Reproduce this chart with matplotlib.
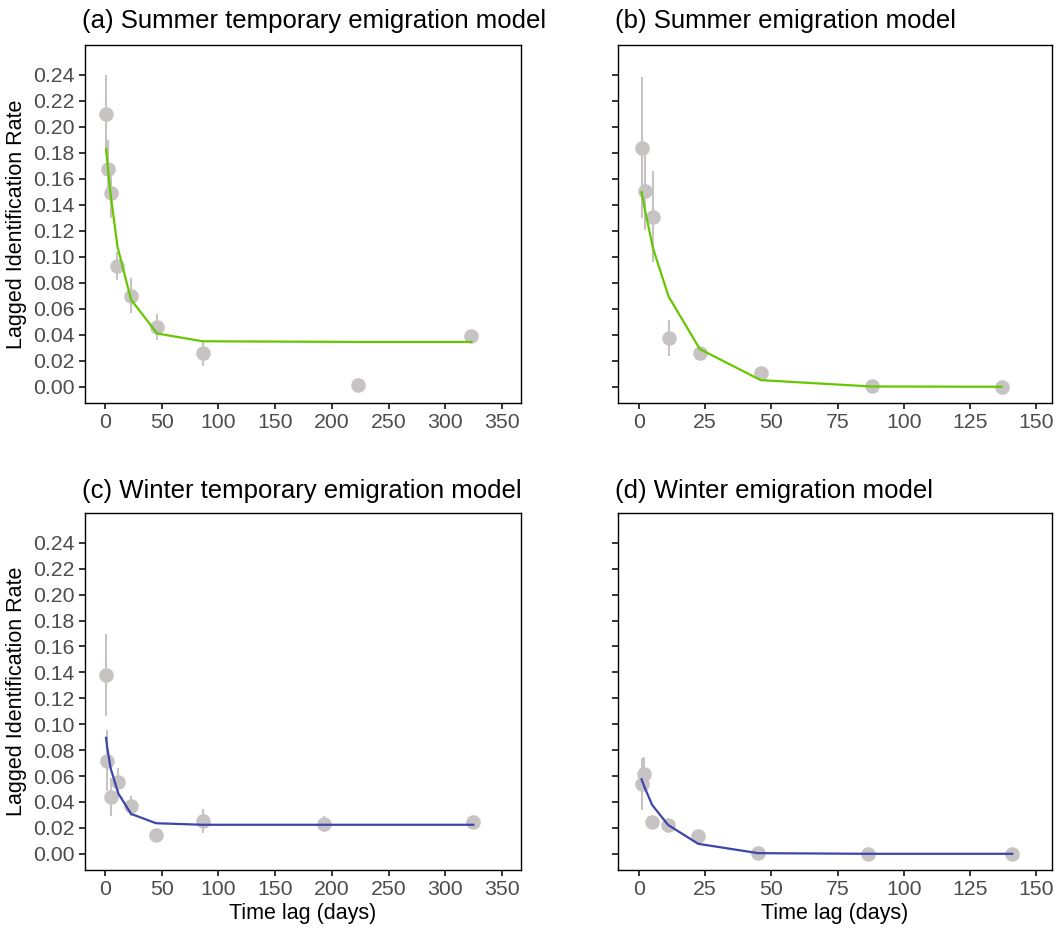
import matplotlib
matplotlib.use("Agg")
import matplotlib.pyplot as plt
import numpy as np

plt.rcParams['font.family'] = ['Liberation Sans', 'DejaVu Sans']

# ---- data ----
titles = ["(a) Summer temporary emigration model", "(b) Summer emigration model",
          "(c) Winter temporary emigration model", "(d) Winter emigration model"]

lag_a = [1, 2.4, 5, 11, 23, 46, 86, 223, 323]
obs_a = [0.210, 0.1675, 0.149, 0.093, 0.070, 0.046, 0.026, 0.0015, 0.039]
err_a = [0.030, 0.0225, 0.019, 0.011, 0.0135, 0.010, 0.010, 0.0, 0.004]
fit_a = [0.183, 0.170, 0.148, 0.108, 0.067, 0.041, 0.035, 0.0345, 0.0345]

lag_b = [1, 2.3, 5.3, 11.2, 23, 46, 88, 137]
obs_b = [0.184, 0.151, 0.131, 0.0377, 0.0257, 0.0108, 0.0005, 0.0]
err_b = [0.054, 0.030, 0.035, 0.0137, 0.005, 0.001, 0.0, 0.0]
fit_b = [0.1497, 0.136, 0.1067, 0.0695, 0.029, 0.0051, 0.0002, 0.0]

lag_c = [1, 2, 5, 11.7, 23, 45, 86, 193.4, 324.8]
obs_c = [0.138, 0.0718, 0.0441, 0.0552, 0.0369, 0.0144, 0.0254, 0.0228, 0.0244]
err_c = [0.032, 0.0236, 0.0146, 0.011, 0.008, 0.0, 0.009, 0.006, 0.002]
fit_c = [0.0895, 0.082, 0.066, 0.0467, 0.0308, 0.0236, 0.0224, 0.0224, 0.0224]

lag_d = [1, 2, 5, 11, 22.4, 45, 86.5, 141]
obs_d = [0.0538, 0.0615, 0.0249, 0.0223, 0.0141, 0.0003, 0.0, 0.0]
err_d = [0.020, 0.013, 0.003, 0.003, 0.0, 0.0, 0.0, 0.0]
fit_d = [0.0575, 0.052, 0.0377, 0.0223, 0.0077, 0.0005, 0.0, 0.0]

y_ticks = [0.00, 0.02, 0.04, 0.06, 0.08, 0.10, 0.12, 0.14, 0.16, 0.18, 0.20, 0.22, 0.24]
x_ticks_long = [0, 50, 100, 150, 200, 250, 300, 350]
x_ticks_short = [0, 25, 50, 75, 100, 125, 150]

GREEN = "#66C700"
BLUE = "#3B46AA"
GRAY = "#C7C3C3"
TICKCOL = "#4D4D4D"

W, H = 1063, 927
fig = plt.figure(figsize=(W / 100, H / 100), dpi=100)

def px_axes(l, r, t, b):
    return fig.add_axes([l / W, 1 - b / H, (r - l) / W, (b - t) / H])

boxes = [(85, 521, 45, 403), (618, 1052, 45, 403),
         (85, 521, 513, 870), (618, 1052, 513, 870)]
panels = [(lag_a, obs_a, err_a, fit_a, GREEN, x_ticks_long, (-17.6, 366.8)),
          (lag_b, obs_b, err_b, fit_b, GREEN, x_ticks_short, (-7.9, 156.0)),
          (lag_c, obs_c, err_c, fit_c, BLUE, x_ticks_long, (-17.6, 366.8)),
          (lag_d, obs_d, err_d, fit_d, BLUE, x_ticks_short, (-7.9, 156.0))]
title_pos = [(82, 21), (615, 21), (82, 491), (615, 491)]

for i, (box, pan) in enumerate(zip(boxes, panels)):
    lag, obs, err, fit, col, xt, xl = pan
    ax = px_axes(*box)
    ax.errorbar(lag, obs, yerr=err, fmt='none', ecolor=GRAY, elinewidth=1.5,
                capsize=0, zorder=1)
    ax.plot(lag, obs, 'o', color=GRAY, markersize=10.5, markeredgewidth=0, zorder=2)
    ax.plot(lag, fit, '-', color=col, linewidth=1.6, zorder=3)
    ax.set_xlim(*xl)
    ax.set_ylim(-0.0125, 0.263)
    ax.set_xticks(xt)
    ax.set_xticklabels([str(v) for v in xt])
    ax.set_yticks(y_ticks)
    if i % 2 == 0:
        ax.set_yticklabels([f"{v:.2f}" for v in y_ticks])
    else:
        ax.set_yticklabels([])
    ax.tick_params(axis='both', direction='out', length=4.5, width=1.1,
                   color='black', labelcolor=TICKCOL, labelsize=15.3, pad=3)
    for s in ax.spines.values():
        s.set_linewidth(1.0)
        s.set_color('black')
    tx, ty = title_pos[i]
    fig.text(tx / W, 1 - ty / H, titles[i], fontsize=18.5, ha='left', va='center',
             color='black')
    l, r, t, b = box
    if i % 2 == 0:
        fig.text(17 / W, 1 - ((t + b) / 2) / H, "Lagged Identification Rate",
                 rotation=90, fontsize=15.5, ha='center', va='center', color='black')
    if i >= 2:
        fig.text(((l + r) / 2) / W, 1 - 913 / H, "Time lag (days)",
                 fontsize=15.5, ha='center', va='center', color='black')

fig.savefig("out.png", dpi=100, facecolor='white')
